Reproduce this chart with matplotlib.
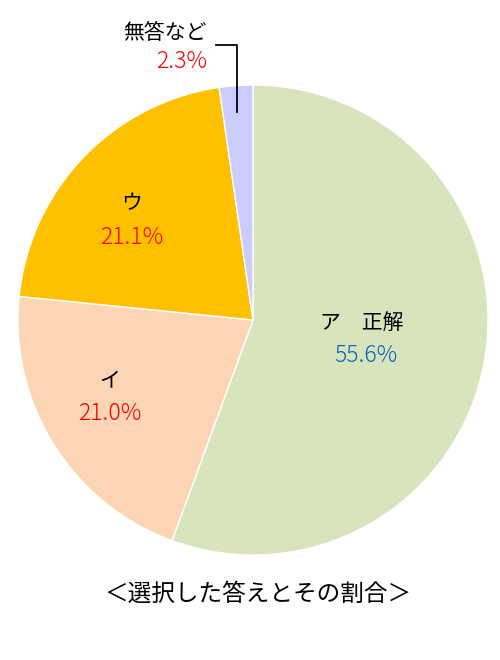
import matplotlib
matplotlib.use("Agg")
import matplotlib.pyplot as plt

plt.rcParams['font.family'] = ['Noto Sans CJK JP', 'DejaVu Sans']

labels = ['ア\u3000正解', 'イ', 'ウ', '無答など']
values = [55.6, 21.0, 21.1, 2.3]
colors = ['#d8e4bc', '#fcd5b4', '#ffc000', '#ccccff']
pct_colors = ['#0563c1', '#ff0000', '#ff0000', '#ff0000']

fig = plt.figure(figsize=(5, 6.6), dpi=100)
ax = fig.add_axes([0, 0, 1, 1])
H = 660

ax.pie(values, colors=colors, startangle=90, counterclock=False,
       center=(253, H - 320), radius=235, frame=True,
       wedgeprops=dict(edgecolor='white', linewidth=1))
ax.set_xlim(0, 500)
ax.set_ylim(0, H)
ax.axis('off')

# label positions in pixel coords (x, y of name, y of pct)
pos = [(362, 323, 356), (110, 380, 413), (132, 203, 238)]
for i, (x, y1, y2) in enumerate(pos):
    ax.text(x, H - y1, labels[i], ha='center', va='center', fontsize=15)
    ax.text(x + 4 if i == 0 else x, H - y2, f'{values[i]:.1f}%',
            ha='center', va='center', fontsize=16.5, color=pct_colors[i],
            fontweight='light')

# small slice label with leader line
ax.text(207, H - 33, labels[3], ha='right', va='center', fontsize=15)
ax.text(207, H - 62, f'{values[3]:.1f}%', ha='right', va='center',
        fontsize=16.5, color=pct_colors[3], fontweight='light')
ax.plot([216, 237, 237], [H - 45, H - 45, H - 112], color='black', lw=1.3)

ax.text(258, H - 594, '＜選択した答えとその割合＞', ha='center', va='center',
        fontsize=17)

fig.savefig('out.png', dpi=100)
